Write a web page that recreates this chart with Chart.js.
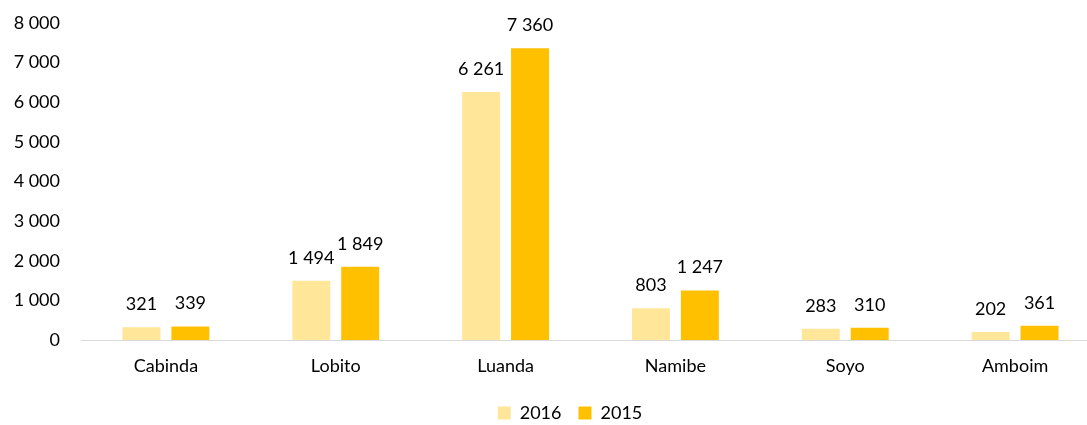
<!DOCTYPE html>
<html>
<head>
<meta charset="utf-8">
<script src="https://cdn.jsdelivr.net/npm/chart.js@4/dist/chart.umd.min.js"></script>
<style>
  html, body { margin: 0; padding: 0; background: #fff; overflow: hidden; }
  #wrap { width: 1100px; height: 425px; }
</style>
</head>
<body>
<div id="wrap"><canvas id="portos" width="1100" height="425"></canvas></div>
<script>
// --- dados ---
const ports = ['Cabinda', 'Lobito', 'Luanda', 'Namibe', 'Soyo', 'Amboim'];
const vals2016 = [321, 1494, 6261, 803, 283, 202];
const vals2015 = [339, 1849, 7360, 1247, 310, 361];
const yTicks = [0, 1000, 2000, 3000, 4000, 5000, 6000, 7000, 8000];

const FONT = "Lato, 'Open Sans', sans-serif";
const FSIZE = 18;

// separador de milhares com espaço
function fmt(n) {
  return String(n).replace(/\B(?=(\d{3})+(?!\d))/g, ' ');
}

// rótulos de valor por cima das barras
const valueLabels = {
  id: 'valueLabels',
  afterDatasetsDraw(chart) {
    const ctx = chart.ctx;
    ctx.save();
    ctx.font = FSIZE + 'px ' + FONT;
    ctx.fillStyle = '#000';
    ctx.textAlign = 'center';
    ctx.textBaseline = 'middle';
    chart.data.datasets.forEach((ds, i) => {
      chart.getDatasetMeta(i).data.forEach((bar, j) => {
        ctx.fillText(fmt(ds.data[j]), bar.x, bar.y - 23);
      });
    });
    ctx.restore();
  }
};

// legenda um pouco à direita (centrada no gráfico original)
const legendShift = {
  id: 'legendShift',
  afterLayout(chart) {
    if (!chart.legend) return;
    chart.legend.left += 20;
    chart.legend.right += 20;
  }
};

new Chart(document.getElementById('portos'), {
  type: 'bar',
  data: {
    labels: ports,
    datasets: [
      { label: '2016', data: vals2016, backgroundColor: '#FFE699' },
      { label: '2015', data: vals2015, backgroundColor: '#FFC000' }
    ]
  },
  options: {
    responsive: false,
    animation: false,
    categoryPercentage: 0.576,
    barPercentage: 0.776,
    layout: { padding: { top: 23, right: 0, bottom: -7, left: 0 } },
    plugins: {
      legend: {
        position: 'bottom',
        labels: {
          font: { size: FSIZE, family: FONT },
          color: '#000',
          boxWidth: 13,
          boxHeight: 13,
          padding: 17
        }
      },
      tooltip: { enabled: false }
    },
    scales: {
      x: {
        grid: { display: false, drawTicks: false },
        border: { display: true, color: '#D9D9D9', width: 1 },
        ticks: { font: { size: FSIZE, family: FONT }, color: '#000', padding: 15 },
        afterFit(s) { s.height = 47; }
      },
      y: {
        min: 0,
        max: 8000,
        afterBuildTicks(s) { s.ticks = yTicks.map(v => ({ value: v })); },
        grid: { display: false, drawTicks: false },
        border: { display: false },
        ticks: {
          font: { size: FSIZE, family: FONT },
          color: '#000',
          padding: 21,
          callback: v => fmt(v)
        },
        afterFit(s) { s.width = 81; s.paddingTop = 0; s.paddingBottom = 0; }
      }
    }
  },
  plugins: [valueLabels, legendShift]
});
</script>
</body>
</html>
